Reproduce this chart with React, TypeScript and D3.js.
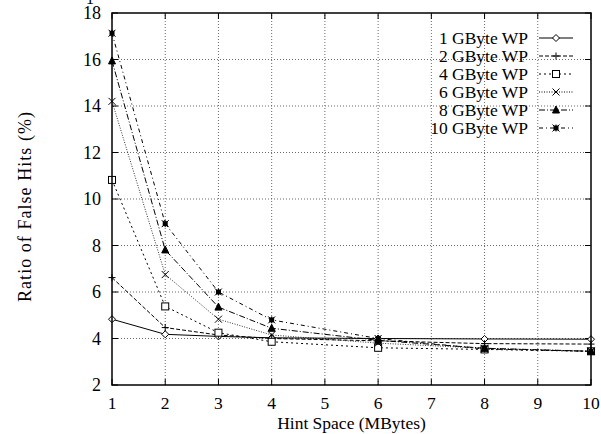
import React from "react";
import * as d3 from "d3";

const width = 601;
const height = 434;
const margin = { top: 13, right: 10, bottom: 49, left: 112 };

const hintSpace = [1, 2, 3, 4, 6, 8, 10];
const gb1 = [4.83, 4.18, 4.09, 4.03, 4.0, 3.98, 3.97];
const gb2 = [6.62, 4.47, 4.15, 4.0, 3.9, 3.78, 3.76];
const gb4 = [10.82, 5.38, 4.25, 3.86, 3.6, 3.53, 3.45];
const gb6 = [14.2, 6.75, 4.83, 4.15, 3.8, 3.58, 3.45];
const gb8 = [15.94, 7.81, 5.35, 4.44, 3.92, 3.58, 3.45];
const gb10 = [17.13, 8.94, 6.0, 4.8, 4.0, 3.55, 3.45];

const seriesNames = ["1 GByte WP", "2 GByte WP", "4 GByte WP", "6 GByte WP", "8 GByte WP", "10 GByte WP"];
const seriesValues = [gb1, gb2, gb4, gb6, gb8, gb10];
const dashes = ["", "4,2", "2,3", "1,1.5", "6,2,1,2", "4,3,1,3"];

const xTicks = [1, 2, 3, 4, 5, 6, 7, 8, 9, 10];
const yTicks = [2, 4, 6, 8, 10, 12, 14, 16, 18];

const font = "'Liberation Serif', 'Times New Roman', serif";

function Marker({ kind, x, y }: { kind: number; x: number; y: number }) {
  const s = 3.5;
  const p = { stroke: "#000", strokeWidth: 1 };
  switch (kind) {
    case 0:
      return <path d={`M${x},${y - s}L${x + s},${y}L${x},${y + s}L${x - s},${y}Z`} fill="white" {...p} />;
    case 1:
      return <path d={`M${x - s},${y}H${x + s}M${x},${y - s}V${y + s}`} fill="none" {...p} />;
    case 2:
      return <rect x={x - s} y={y - s} width={2 * s} height={2 * s} fill="white" {...p} />;
    case 3:
      return <path d={`M${x - s},${y - s}L${x + s},${y + s}M${x - s},${y + s}L${x + s},${y - s}`} fill="none" {...p} />;
    case 4:
      return <path d={`M${x},${y - s - 0.5}L${x + s},${y + s - 0.5}L${x - s},${y + s - 0.5}Z`} fill="#000" {...p} />;
    default:
      return (
        <g>
          <rect x={x - s + 1} y={y - s + 1} width={2 * s - 2} height={2 * s - 2} fill="#000" />
          <path d={`M${x - s},${y - s}L${x + s},${y + s}M${x - s},${y + s}L${x + s},${y - s}M${x},${y - s}V${y + s}`} fill="none" {...p} />
        </g>
      );
  }
}

export default function App() {
  const x = d3.scaleLinear().domain([1, 10]).range([margin.left, width - margin.right]);
  const y = d3.scaleLinear().domain([2, 18]).range([height - margin.bottom, margin.top]);
  const line = d3
    .line<number>()
    .x((_, i) => x(hintSpace[i]))
    .y((d) => y(d));

  const x0 = x(1);
  const x1 = x(10);
  const y0 = y(2);
  const y1 = y(18);

  const legendX = 528;
  const legendY = 38;
  const legendStep = 18;

  return (
    <svg
      width={width}
      height={height}
      style={{ position: "absolute", left: 0, top: 0, background: "white" }}
      fontFamily={font}
    >
      <rect width={width} height={height} fill="white" />
      {/* title remnant, cut off at the top edge as in the source */}
      <text x={90} y={4} fontSize={16} textAnchor="middle">1</text>

      {/* grid */}
      {xTicks.slice(1, -1).map((t) => (
        <line key={"gx" + t} x1={x(t)} x2={x(t)} y1={y0} y2={y1} stroke="#444" strokeWidth={0.8} strokeDasharray="1,2" />
      ))}
      {yTicks.slice(1, -1).map((t) => (
        <line key={"gy" + t} x1={x0} x2={x1} y1={y(t)} y2={y(t)} stroke="#444" strokeWidth={0.8} strokeDasharray="1,2" />
      ))}

      {/* ticks */}
      {xTicks.map((t) => (
        <g key={"tx" + t}>
          <line x1={x(t)} x2={x(t)} y1={y0} y2={y0 - 6} stroke="#000" />
          <line x1={x(t)} x2={x(t)} y1={y1} y2={y1 + 6} stroke="#000" />
          <text x={x(t)} y={y0 + 24} fontSize={17.5} textAnchor="middle">{t}</text>
        </g>
      ))}
      {yTicks.map((t) => (
        <g key={"ty" + t}>
          <line x1={x0} x2={x0 + 6} y1={y(t)} y2={y(t)} stroke="#000" />
          <line x1={x1} x2={x1 - 6} y1={y(t)} y2={y(t)} stroke="#000" />
          <text x={101} y={y(t) + 6} fontSize={18} textAnchor="end">{t}</text>
        </g>
      ))}

      {/* series */}
      {seriesValues.map((vals, k) => (
        <g key={"s" + k}>
          <path d={line(vals) || ""} fill="none" stroke="#000" strokeWidth={k === 3 ? 0.8 : 1} strokeDasharray={dashes[k]} />
          {vals.map((v, i) => (
            <Marker key={i} kind={k} x={x(hintSpace[i])} y={y(v)} />
          ))}
        </g>
      ))}

      {/* legend */}
      {seriesNames.map((name, k) => {
        const ly = legendY + k * legendStep;
        return (
          <g key={"l" + k}>
            <text x={legendX} y={ly + 6} fontSize={17.5} textAnchor="end">{name}</text>
            <line x1={539} x2={573} y1={ly} y2={ly} stroke="#000" strokeWidth={1} strokeDasharray={dashes[k]} />
            <Marker kind={k} x={556} y={ly} />
          </g>
        );
      })}

      {/* frame */}
      <rect x={x0} y={y1} width={x1 - x0} height={y0 - y1} fill="none" stroke="#000" strokeWidth={1.5} />

      <text x={(x0 + x1) / 2} y={429} fontSize={17.5} textAnchor="middle">Hint Space (MBytes)</text>
      <text
        transform="translate(31,207) rotate(-90)"
        fontSize={18}
        textAnchor="middle"
        textLength={190}
        lengthAdjust="spacing"
      >
        Ratio of False Hits (%)
      </text>
    </svg>
  );
}
